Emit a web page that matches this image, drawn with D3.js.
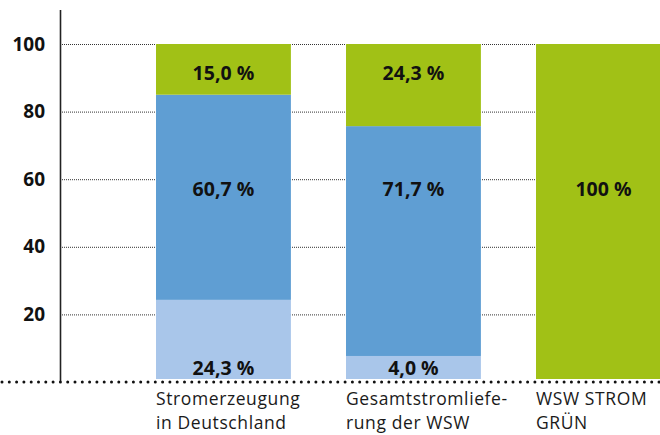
<!DOCTYPE html>
<html>
<head>
<meta charset="utf-8">
<script src="https://cdn.jsdelivr.net/npm/d3@7"></script>
<style>
  html, body { margin: 0; padding: 0; background: #fff; }
  svg { display: block; font-family: "Open Sans", sans-serif; }
</style>
</head>
<body>
<div id="chart"></div>
<script>
// categories (line breaks marked with |)
let categories = ['Stromerzeugung|in Deutschland', 'Gesamtstromliefe-|rung der WSW', 'WSW STROM|GRÜN'];

// segment heights as drawn, bottom to top
let otherShare   = [24.3, 7.7, 0];
let fossilShare  = [60.7, 68.0, 0];
let greenShare   = [15.0, 24.3, 100];

// printed labels
let otherLabels  = ['24,3 %', '4,0 %', ''];
let fossilLabels = ['60,7 %', '71,7 %', ''];
let greenLabels  = ['15,0 %', '24,3 %', '100 %'];

let yTicks = [20, 40, 60, 80, 100];

// label rows, in axis units
let labelRows = { other: 4, fossil: 57, green: 91.5, full: 57 };

let width = 660, height = 435;

let rows = categories.map((c, i) => ({
    cat: c,
    other: otherShare[i],
    fossil: fossilShare[i],
    green: greenShare[i]
}));

let keys = ['other', 'fossil', 'green'];
let colors = { other: '#a9c6ea', fossil: '#5f9ed3', green: '#a1c116' };
let labelText = { other: otherLabels, fossil: fossilLabels, green: greenLabels };

let y = d3.scaleLinear().domain([0, 100]).range([382, 44]);
let x = d3.scaleBand()
    .domain(categories)
    .range([156, 156 + 190 * (3 - 0.29)])
    .paddingInner(0.29)
    .paddingOuter(0);

let svg = d3.select('#chart').append('svg')
    .attr('width', width)
    .attr('height', height);

// gridlines
svg.append('g').selectAll('line')
    .data(yTicks)
    .join('line')
    .attr('x1', 62).attr('x2', width)
    .attr('y1', d => y(d) + 0.5).attr('y2', d => y(d) + 0.5)
    .attr('stroke', '#333')
    .attr('stroke-width', 1)
    .attr('stroke-dasharray', '1 1');

// stacked bars
let stacked = d3.stack().keys(keys)(rows);

svg.append('g').selectAll('g')
    .data(stacked)
    .join('g')
    .attr('fill', d => colors[d.key])
    .selectAll('rect')
    .data(d => d)
    .join('rect')
    .attr('x', d => x(d.data.cat))
    .attr('width', x.bandwidth())
    .attr('y', d => y(d[1]))
    .attr('height', d => Math.max(0, y(d[0]) - y(d[1])) - (d[0] === 0 ? 3 : 0));

// value labels
let labelData = [];
keys.forEach(k => {
    rows.forEach((r, i) => {
        let t = labelText[k][i];
        if (!t) return;
        let lvl = r[k] === 100 ? labelRows.full : labelRows[k];
        labelData.push({ cat: r.cat, text: t, lvl: lvl });
    });
});

svg.append('g').selectAll('text')
    .data(labelData)
    .join('text')
    .attr('x', d => x(d.cat) + x.bandwidth() / 2)
    .attr('y', d => y(d.lvl))
    .attr('dy', '0.35em')
    .attr('text-anchor', 'middle')
    .attr('font-size', 19.5)
    .attr('font-weight', 700)
    .attr('fill', '#111')
    .text(d => d.text);

// y axis
let yAxis = d3.axisLeft(y).tickValues(yTicks).tickSize(0).tickPadding(15);
let ax = svg.append('g')
    .attr('transform', 'translate(60,0)')
    .call(yAxis);
ax.select('.domain').remove();
ax.selectAll('text')
    .attr('font-family', '"Open Sans", sans-serif')
    .attr('font-size', 19)
    .attr('font-weight', 700)
    .attr('fill', '#111');

svg.append('line')
    .attr('x1', 60.5).attr('x2', 60.5)
    .attr('y1', 10).attr('y2', 381)
    .attr('stroke', '#222')
    .attr('stroke-width', 1.6);

// baseline of dots
svg.append('line')
    .attr('x1', 2).attr('x2', width)
    .attr('y1', 382).attr('y2', 382)
    .attr('stroke', '#111')
    .attr('stroke-width', 3)
    .attr('stroke-linecap', 'round')
    .attr('stroke-dasharray', '0 7.3');

// category labels
let cl = svg.append('g').selectAll('text')
    .data(categories)
    .join('text')
    .attr('x', d => x(d))
    .attr('y', 405)
    .attr('font-size', 17.5)
    .attr('letter-spacing', 0.6)
    .attr('fill', '#1a1a1a');

cl.selectAll('tspan')
    .data(d => d.split('|').map(s => ({ s: s, cat: d })))
    .join('tspan')
    .attr('x', d => x(d.cat))
    .attr('dy', (d, i) => i === 0 ? 0 : 24)
    .text(d => d.s);
</script>
</body>
</html>
